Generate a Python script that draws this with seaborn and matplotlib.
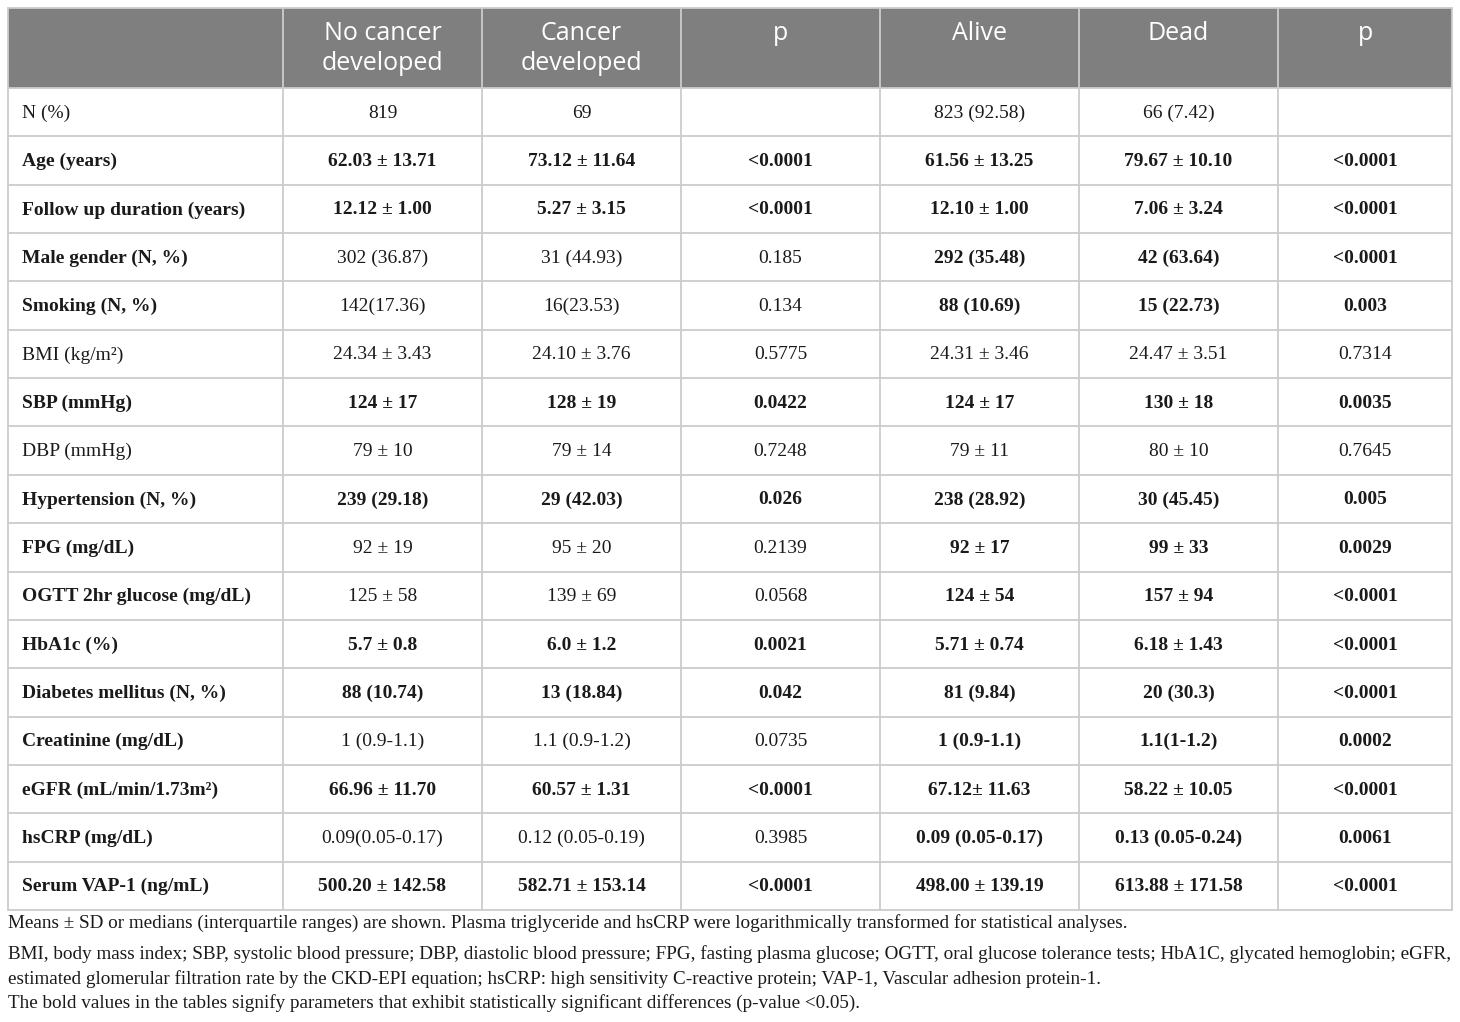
import numpy as np
import matplotlib
matplotlib.use("Agg")
import matplotlib.pyplot as plt
import seaborn as sns

# table content
header = ["", "No cancer\ndeveloped", "Cancer\ndeveloped", "p", "Alive", "Dead", "p"]

labels = [
    "N (%)", "Age (years)", "Follow up duration (years)", "Male gender (N, %)",
    "Smoking (N, %)", "BMI (kg/m\u00b2)", "SBP (mmHg)", "DBP (mmHg)",
    "Hypertension (N, %)", "FPG (mg/dL)", "OGTT 2hr glucose (mg/dL)", "HbA1c (%)",
    "Diabetes mellitus (N, %)", "Creatinine (mg/dL)", "eGFR (mL/min/1.73m\u00b2)",
    "hsCRP (mg/dL)", "Serum VAP-1 (ng/mL)",
]
no_cancer = ["819", "62.03 \u00b1 13.71", "12.12 \u00b1 1.00", "302 (36.87)", "142(17.36)",
             "24.34 \u00b1 3.43", "124 \u00b1 17", "79 \u00b1 10", "239 (29.18)", "92 \u00b1 19",
             "125 \u00b1 58", "5.7 \u00b1 0.8", "88 (10.74)", "1 (0.9-1.1)", "66.96 \u00b1 11.70",
             "0.09(0.05-0.17)", "500.20 \u00b1 142.58"]
cancer = ["69", "73.12 \u00b1 11.64", "5.27 \u00b1 3.15", "31 (44.93)", "16(23.53)",
          "24.10 \u00b1 3.76", "128 \u00b1 19", "79 \u00b1 14", "29 (42.03)", "95 \u00b1 20",
          "139 \u00b1 69", "6.0 \u00b1 1.2", "13 (18.84)", "1.1 (0.9-1.2)", "60.57 \u00b1 1.31",
          "0.12 (0.05-0.19)", "582.71 \u00b1 153.14"]
p_cancer = ["", "<0.0001", "<0.0001", "0.185", "0.134", "0.5775", "0.0422", "0.7248",
            "0.026", "0.2139", "0.0568", "0.0021", "0.042", "0.0735", "<0.0001",
            "0.3985", "<0.0001"]
alive = ["823 (92.58)", "61.56 \u00b1 13.25", "12.10 \u00b1 1.00", "292 (35.48)", "88 (10.69)",
         "24.31 \u00b1 3.46", "124 \u00b1 17", "79 \u00b1 11", "238 (28.92)", "92 \u00b1 17",
         "124 \u00b1 54", "5.71 \u00b1 0.74", "81 (9.84)", "1 (0.9-1.1)", "67.12\u00b1 11.63",
         "0.09 (0.05-0.17)", "498.00 \u00b1 139.19"]
dead = ["66 (7.42)", "79.67 \u00b1 10.10", "7.06 \u00b1 3.24", "42 (63.64)", "15 (22.73)",
        "24.47 \u00b1 3.51", "130 \u00b1 18", "80 \u00b1 10", "30 (45.45)", "99 \u00b1 33",
        "157 \u00b1 94", "6.18 \u00b1 1.43", "20 (30.3)", "1.1(1-1.2)", "58.22 \u00b1 10.05",
        "0.13 (0.05-0.24)", "613.88 \u00b1 171.58"]
p_death = ["", "<0.0001", "<0.0001", "<0.0001", "0.003", "0.7314", "0.0035", "0.7645",
           "0.005", "0.0029", "<0.0001", "<0.0001", "<0.0001", "0.0002", "<0.0001",
           "0.0061", "<0.0001"]
# bold flags: label + 6 value cells
bold_flags = ["0000000", "1111111", "1111111", "1000111", "1000111", "0000000",
              "1111111", "0000000", "1111111", "1000111", "1000111", "1111111",
              "1111111", "1000111", "1111111", "1000111", "1111111"]

footnotes = [
    "Means \u00b1 SD or medians (interquartile ranges) are shown. Plasma triglyceride and hsCRP were logarithmically transformed for statistical analyses.",
    "BMI, body mass index; SBP, systolic blood pressure; DBP, diastolic blood pressure; FPG, fasting plasma glucose; OGTT, oral glucose tolerance tests; HbA1C, glycated hemoglobin; eGFR,",
    "estimated glomerular filtration rate by the CKD-EPI equation; hsCRP: high sensitivity C-reactive protein; VAP-1, Vascular adhesion protein-1.",
    "The bold values in the tables signify parameters that exhibit statistically significant differences (p-value <0.05).",
]

sns.set_theme(style="white")
plt.rcParams["font.family"] = ["Liberation Serif", "DejaVu Serif"]

W, H = 1460, 1022
fig = plt.figure(figsize=(W / 100, H / 100), dpi=100)
ax = fig.add_axes([0, 0, 1, 1])
ax.set_xlim(0, W)
ax.set_ylim(H, 0)
ax.axis("off")

col_edges = np.array([8, 283, 482, 681, 880, 1079, 1278, 1452])
head_top, head_bot = 8, 88
n_rows = len(labels)
row_edges = np.linspace(head_bot, 910, n_rows + 1)
all_edges = np.concatenate([[head_top], row_edges])

# cell fills: header gray, body white
fill = np.zeros((n_rows + 1, len(col_edges) - 1))
fill[0, :] = 1
cmap = matplotlib.colors.ListedColormap(["white", "#7f7f7f"])
ax.pcolormesh(col_edges, all_edges, fill, cmap=cmap, vmin=0, vmax=1, shading="flat")

# grid lines
line_c = "#cccccc"
for y in all_edges:
    ax.plot([col_edges[0], col_edges[-1]], [y, y], color=line_c, lw=1.3)
for x in col_edges:
    ax.plot([x, x], [head_top, all_edges[-1]], color=line_c, lw=1.3)

# header: first line at y=34, second at y=63
centers = (col_edges[:-1] + col_edges[1:]) / 2
for j, txt in enumerate(header):
    for k, part in enumerate(txt.split("\n")):
        if part:
            ax.text(centers[j], 34 + 29 * k, part, ha="center", va="center",
                    color="white", fontsize=18, family="Open Sans")

# body
cols = [no_cancer, cancer, p_cancer, alive, dead, p_death]
for i in range(n_rows):
    yc = (row_edges[i] + row_edges[i + 1]) / 2 + 1
    flags = bold_flags[i]
    ax.text(col_edges[0] + 14, yc, labels[i], ha="left", va="center", fontsize=14,
            color="#1a1a1a", fontweight="bold" if flags[0] == "1" else "normal")
    for j, col in enumerate(cols):
        ax.text(centers[j + 1], yc, col[i], ha="center", va="center", fontsize=14,
                color="#1a1a1a", fontweight="bold" if flags[j + 1] == "1" else "normal")

# footnotes
foot_y = [923, 954, 979, 1003]
for y, txt in zip(foot_y, footnotes):
    ax.text(8, y, txt, ha="left", va="center", fontsize=13.8, color="#1a1a1a")

fig.savefig("out.png", dpi=100)
